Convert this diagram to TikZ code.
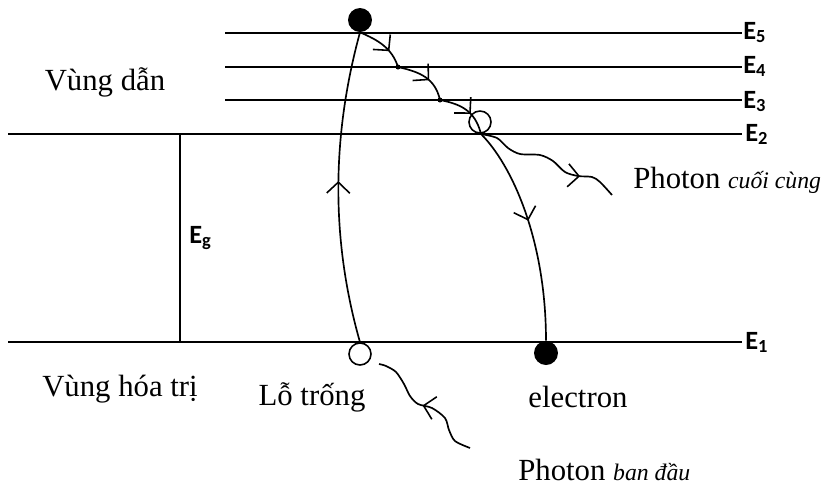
\documentclass[tikz,border=0pt]{standalone}
\usepackage{fontspec}
\setmainfont{Liberation Serif}
\newfontfamily\calib{Carlito}
\usetikzlibrary{arrows.meta,decorations.markings}
\tikzset{
  muiten/.style={postaction={decorate,decoration={markings,
      mark=at position #1 with {\arrow[line width=0.9pt]{Straight Barb[length=2.2mm,width=4.6mm]}}}}},
  mucnang/.style={line width=1.15pt},
  duong/.style={line width=0.95pt},
  nhan/.style={font=\calib\bfseries\fontsize{15}{17}\selectfont, anchor=base west, inner sep=0pt},
  chu/.style={font=\fontsize{17.5}{21}\selectfont, inner sep=0pt, anchor=base},
  hat/.style={circle, fill, minimum size=0.48cm, inner sep=0pt},
  lo/.style={circle, draw, line width=0.9pt, minimum size=0.44cm, inner sep=0pt},
  cham/.style={circle, fill, minimum size=0.1cm, inner sep=0pt},
}
\begin{document}
\begin{tikzpicture}[x=0.02cm, y=-0.02cm]
    \useasboundingbox (0,0) rectangle (823,485);

    % Cac muc nang luong
    \draw[mucnang] (225,33) -- (742,33);
    \draw[mucnang] (225,67) -- (742,67);
    \draw[mucnang] (225,100) -- (742,100);
    \draw[mucnang] (8,134) -- (742,134);
    \draw[mucnang] (8,342) -- (742,342);
    \draw[mucnang] (180,134) -- (180,342);

    % Nhan muc
    \node[nhan] (E5) at (743,39) {E\textsubscript{5}};
    \node[nhan] (E4) at (743,73) {E\textsubscript{4}};
    \node[nhan] (E3) at (743,108) {E\textsubscript{3}};
    \node[nhan] (E2) at (745,141) {E\textsubscript{2}};
    \node[nhan] (E1) at (745,349) {E\textsubscript{1}};
    \node[nhan] (Eg) at (189,243) {E\textsubscript{g}};

    % Hat va lo trong
    \node[hat] (eTop) at (360,20) {};
    \node[hat] (eBot) at (546,353) {};
    \node[lo] (hBot) at (360,354) {};
    \node[lo] (hTop) at (480,122) {};
    \coordinate (d4) at (398,67);
    \coordinate (d3) at (440,100);
    \coordinate (d2) at (481,134);
    \node[cham] (c4) at (d4) {};
    \node[cham] (c3) at (d3) {};

    % Duong di cua lo trong
    \draw[duong, muiten=0.52] (hBot.north) .. controls (338,265) and (325,160) .. (eTop.south);

    % Electron roi xuong
    \draw[duong, muiten=0.66] (eTop.south) .. controls (378,40) and (392,48) .. (d4);
    \draw[duong, muiten=0.6] (d4) .. controls (420,72) and (435,78) .. (d3);
    \draw[duong, muiten=0.6] (d3) .. controls (460,104) and (475,110) .. (d2);
    \draw[duong, muiten=0.45] (d2) .. controls (512,165) and (546,240) .. (eBot.north);

    % Photon
    \coordinate (pc) at (612,195);
    \coordinate (pdau) at (470,448);
    \coordinate (pvao) at (379,364);
    \draw[duong, muiten=0.74] plot[smooth] coordinates {(d2) (497,138) (508,148) (520,154)
        (540,155) (553,161) (565,172) (578,176) (592,177) (600,182) (pc)};
    \draw[duong, muiten=0.52] plot[smooth] coordinates {(pdau) (455,441) (449,430) (445,418)
        (432,408) (418,404) (410,396) (404,384) (396,372) (386,366) (pvao)};

    % Chu thich
    \node[chu] (vdan) at (105,90) {Vùng dẫn};
    \node[chu] (vhoa) at (120,396) {Vùng hóa trị};
    \node[chu] (lotrong) at (312,405) {Lỗ trống};
    \node[chu] (elec) at (578,407) {electron};
    \node[chu, anchor=base west] (phcuoi) at (633,188) {Photon \textit{\fontsize{13.5}{16}\selectfont cuối cùng}};
    \node[chu, anchor=base west] (phdau) at (518,480) {Photon \textit{\fontsize{13.5}{16}\selectfont ban đầu}};
\end{tikzpicture}
\end{document}
